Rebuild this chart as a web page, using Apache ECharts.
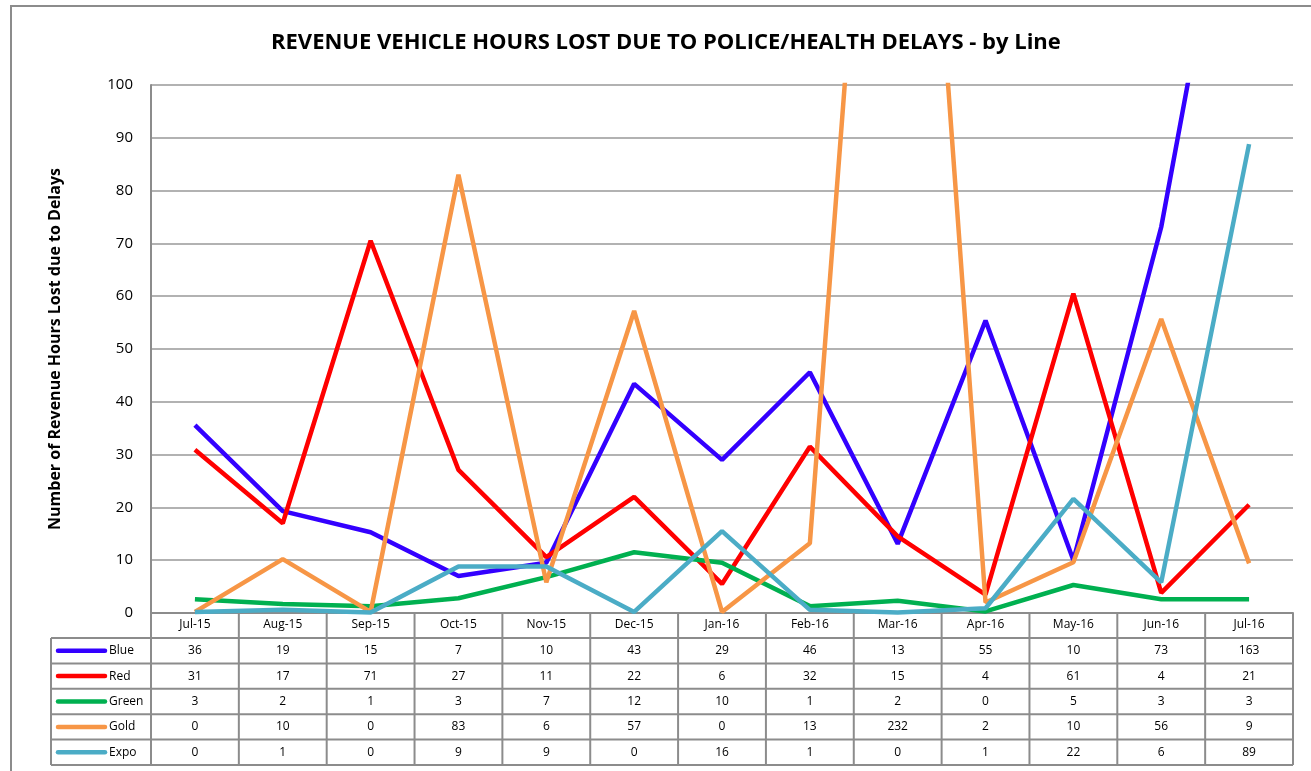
<!DOCTYPE html>
<html><head><meta charset="utf-8">
<script src="https://cdn.jsdelivr.net/npm/echarts@6/dist/echarts.min.js"></script>
<style>html,body{margin:0;padding:0;background:#fff}#c{width:1311px;height:771px}</style>
</head><body><div id="c"></div>
<script>
const categories = ['Jul-15','Aug-15','Sep-15','Oct-15','Nov-15','Dec-15','Jan-16','Feb-16','Mar-16','Apr-16','May-16','Jun-16','Jul-16'];
const seriesNames = ['Blue','Red','Green','Gold','Expo'];
const blueValues  = [35.6, 19.3, 15.3, 7.0, 9.5, 43.4, 29.0, 45.6, 13.1, 55.4, 10.0, 73.1, 163];
const redValues   = [30.9, 17.0, 70.5, 27.1, 10.6, 22.0, 5.5, 31.5, 14.5, 3.5, 60.5, 3.8, 20.5];
const greenValues = [2.6, 1.7, 1.3, 2.8, 6.8, 11.5, 9.5, 1.3, 2.3, 0.3, 5.3, 2.6, 2.6];
const goldValues  = [0.2, 10.2, 0.2, 83.0, 5.8, 57.2, 0.2, 13.2, 232, 2.0, 9.6, 55.7, 9.4];
const expoValues  = [0.2, 0.6, 0.1, 8.8, 8.8, 0.2, 15.5, 0.6, 0.1, 0.9, 21.6, 5.8, 88.8];
const colors = ['#3300FF','#FF0000','#00B050','#F79646','#4BACC6'];
const allValues = [blueValues, redValues, greenValues, goldValues, expoValues];

const FONT = '"Open Sans", sans-serif';
const chart = echarts.init(document.getElementById('c'));
const GRID = {left:151, right:18, top:85, bottom:158};
const option = {
  backgroundColor:'#fff',
  animation:false,
  textStyle:{fontFamily:FONT},
  title:{text:'REVENUE VEHICLE HOURS LOST DUE TO POLICE/HEALTH DELAYS - by Line', left:266, top:27,
    textStyle:{fontFamily:FONT, fontSize:22, fontWeight:'bold', color:'#000'}},
  grid:{left:GRID.left, right:GRID.right, top:GRID.top, bottom:GRID.bottom},
  xAxis:{type:'category', data:categories, boundaryGap:true,
    axisLine:{lineStyle:{color:'#8c8c8c', width:2}},
    axisTick:{show:false},
    axisLabel:{color:'#000', fontSize:12, margin:6, fontFamily:FONT}},
  yAxis:{type:'value', min:0, max:100, interval:10,
    name:'Number of Revenue Hours Lost due to Delays', nameLocation:'middle', nameRotate:90, nameGap:88,
    nameTextStyle:{fontFamily:FONT, fontSize:16, fontWeight:'bold', color:'#000'},
    axisLine:{show:true, lineStyle:{color:'#8c8c8c', width:2}},
    axisTick:{show:false},
    axisLabel:{color:'#000', fontSize:15, margin:18, fontFamily:FONT},
    splitLine:{lineStyle:{color:'#999', width:1.5}}},
  series: seriesNames.map((n,i)=>({name:n, type:'line', data:allValues[i], symbol:'none', clip:true,
    lineStyle:{color:colors[i], width:4.5}, itemStyle:{color:colors[i]}}))
};
chart.setOption(option);

// Data table under the axis
const g = [];
const lineC = '#8c8c8c';
const plotL = GRID.left, plotR = 1311 - GRID.right, axisY = 771 - GRID.bottom;
const band = (plotR - plotL) / categories.length;
const tableL = 51;
const headerB = 638;
const rowH = (765 - headerB) / seriesNames.length;
const bottomY = headerB + rowH * seriesNames.length;
function hline(x1,x2,y){g.push({type:'line', shape:{x1,y1:y,x2,y2:y}, style:{stroke:lineC, lineWidth:2}, z:5});}
function vline(x,y1,y2){g.push({type:'line', shape:{x1:x,y1,x2:x,y2}, style:{stroke:lineC, lineWidth:2}, z:5});}
hline(tableL, plotR, headerB);
for(let r=1;r<=seriesNames.length;r++) hline(tableL, plotR, headerB + rowH*r);
vline(tableL, headerB, bottomY);
for(let c=0;c<=categories.length;c++) vline(plotL + band*c, axisY, bottomY);
seriesNames.forEach((n,r)=>{
  const cy = headerB + rowH*r + rowH/2;
  g.push({type:'line', shape:{x1:58,y1:cy,x2:105,y2:cy}, style:{stroke:colors[r], lineWidth:4.5, lineCap:'round'}, z:6});
  g.push({type:'text', x:109, y:cy, style:{text:n, fill:'#000', font:'12px '+FONT, textAlign:'left', textVerticalAlign:'middle'}, z:6});
  allValues[r].forEach((v,c)=>{
    const cx = chart.convertToPixel({xAxisIndex:0}, c);
    g.push({type:'text', x:cx, y:cy, style:{text:String(Math.round(v)), fill:'#000', font:'12px '+FONT, textAlign:'center', textVerticalAlign:'middle'}, z:6});
  });
});
g.push({type:'rect', shape:{x:11,y:6,width:1400,height:800}, style:{fill:'none', stroke:'#8c8c8c', lineWidth:2}, z:1});
chart.setOption({graphic:g});
</script>
</body></html>
